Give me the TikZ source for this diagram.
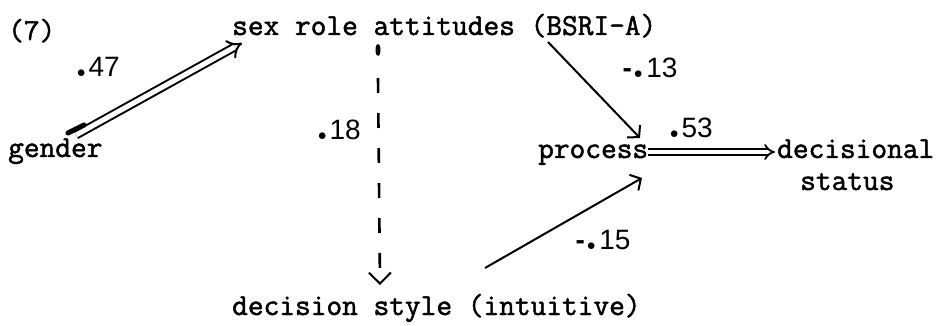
\documentclass[tikz,border=0pt]{standalone}
\usepackage{fontspec}
\newfontfamily\nf{Liberation Sans}
\newfontfamily\tw{Latin Modern Mono}[FakeBold=1.6]
\usetikzlibrary{arrows.meta}
\newcommand\dt{{\rmfamily\bfseries\fontsize{46}{30}\selectfont .}}
\newcommand\mn{{\bfseries -}}
\begin{document}
\begin{tikzpicture}[x=1pt,y=-1pt,
  lbl/.style={font=\tw\fontsize{30.5}{34}\selectfont, inner sep=0pt, anchor=base west},
  num/.style={font=\nf\fontsize{28}{30}\selectfont, inner sep=0pt},
  tipv/.style={-{Straight Barb[length=8pt,width=18pt,line width=2pt]}},
  tipbig/.style={-{Straight Barb[length=11pt,width=22pt,line width=2pt]}},
  link/.style={line width=2pt, tipv},
  dbl/.style={double, line width=1.8pt, double distance=3.5pt, -{Implies}},
  dblwide/.style={double, line width=2pt, double distance=5pt, -{Implies}},
  dsh/.style={line width=2.6pt, dash pattern=on 15pt off 20pt, tipbig},
  blob/.style={fill=black}]
\useasboundingbox (0,0) rectangle (940,326);

\node[lbl] (seven) at (8,40) {(7)};
\node[lbl] (sra) at (232,35) {sex role attitudes (BSRI-A)};
\node[lbl] (gender) at (8,157) {gender};
\node[lbl] (proc) at (538,158) {process};
\node[lbl] (dec) at (777,158) {decisional};
\node[lbl] (stat) at (800,190) {status};
\node[lbl] (ds) at (232,315) {decision style (intuitive)};

\node[num] (n47) at (97,67) {\dt47};
\node[num] (n18) at (338,130) {\dt18};
\node[num] (n13) at (650,68) {\mn\dt13};
\node[num] (n53) at (690,128) {\dt53};
\node[num] (n15) at (603,240) {\mn\dt15};

% gender -> sex role attitudes
\draw[dblwide] ([shift={(68,-22)}]gender.base west) -- ([shift={(10,8)}]sra.base west);
\draw[line width=5pt, line cap=round] ([shift={(60,-24)}]gender.base west) -- ([shift={(76,-32)}]gender.base west);
% sex role attitudes -> process
\draw[link] ([shift={(316,7)}]sra.base west) -- ([shift={(102,-20)}]proc.base west);
% decision style -> process
\draw[link] ([shift={(253,-47)}]ds.base west) -- ([shift={(104,20)}]proc.base west);
% process -> decisional status
\draw[dbl] ([shift={(110,-6)}]proc.base west) -- ([shift={(-2,-6)}]dec.base west);
% sex role attitudes -> decision style (dashed)
\fill[blob] ([shift={(146,15)}]sra.base west) ellipse (2.5 and 6);
\draw[dsh] ([shift={(146,43)}]sra.base west) -- ([shift={(148,-30)}]ds.base west);
\end{tikzpicture}
\end{document}
